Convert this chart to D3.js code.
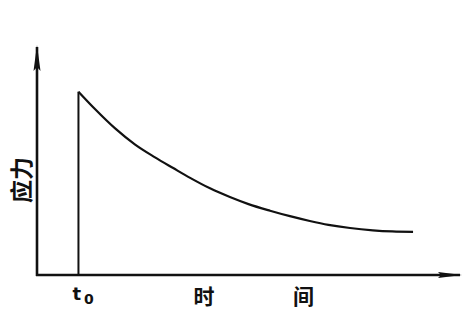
<!DOCTYPE html>
<html>
<head>
<meta charset="utf-8">
<script src="https://cdn.jsdelivr.net/npm/d3@7"></script>
<style>
  body { margin: 0; background: #fff; }
  .cn { font-family: "Noto Sans CJK SC", sans-serif; font-weight: 700; fill: #111; }
  .lat { font-family: "DejaVu Sans", sans-serif; font-weight: 700; fill: #111; }
</style>
</head>
<body>
<svg id="chart" width="474" height="321"></svg>
<script>
// stress relaxation curve (arbitrary units 0-100)
const t0 = 9.8;
const times  = [9.8, 13.7, 18.4, 23.2, 27.9, 32.2, 36.2, 40.9, 45.6, 50.0, 55.1, 59.8, 64.5, 68.9, 74.0, 79.4, 84.0, 88.9];
const stress = [80.4, 72.8, 64.4, 57.2, 51.6, 46.9, 42.6, 38.0, 34.2, 31.1, 28.2, 25.8, 23.7, 22.0, 20.6, 19.6, 19.1, 18.9];
const xLabels = ["时", "间"];
const xLabelPos = [39.5, 63];
const yLabel = "应力";

const svg = d3.select('#chart');
const x0 = 37, x1 = 460, y0 = 275, y1 = 47;

let xScale = d3.scaleLinear().domain([0, 100]).range([x0, x1]);
let yScale = d3.scaleLinear().domain([0, 100]).range([y0, y1]);

let values = times.map((t, i) => ({ x: t, y: stress[i] }));

// arrow heads
let defs = svg.append('defs');
defs.append('marker')
    .attr('id', 'arrY')
    .attr('viewBox', '0 0 26 8')
    .attr('refX', 24).attr('refY', 4)
    .attr('markerWidth', 26).attr('markerHeight', 8)
    .attr('markerUnits', 'userSpaceOnUse')
    .attr('orient', 'auto')
    .append('path')
    .attr('d', 'M0,0.5 L26,4 L0,7.5 L4,4 Z')
    .attr('fill', '#111');

defs.append('marker')
    .attr('id', 'arrX')
    .attr('viewBox', '0 0 24 7')
    .attr('refX', 22).attr('refY', 3.5)
    .attr('markerWidth', 24).attr('markerHeight', 7)
    .attr('markerUnits', 'userSpaceOnUse')
    .attr('orient', 'auto')
    .append('path')
    .attr('d', 'M0,0.5 L24,3.5 L0,6.5 L3,3.5 Z')
    .attr('fill', '#111');

// axes
svg.append('line')
    .attr('x1', xScale(0)).attr('y1', yScale(0) + 1)
    .attr('x2', xScale(0)).attr('y2', yScale(100))
    .attr('stroke', '#111').attr('stroke-width', 2.6)
    .attr('marker-end', 'url(#arrY)');

svg.append('line')
    .attr('x1', xScale(0) - 1).attr('y1', yScale(0))
    .attr('x2', xScale(100)).attr('y2', yScale(0))
    .attr('stroke', '#111').attr('stroke-width', 2.4)
    .attr('marker-end', 'url(#arrX)');

// jump at t0
svg.append('line')
    .attr('x1', xScale(t0)).attr('y1', yScale(0))
    .attr('x2', xScale(t0)).attr('y2', yScale(stress[0]))
    .attr('stroke', '#111').attr('stroke-width', 2);

// relaxation curve
let line = d3.line()
    .curve(d3.curveMonotoneX)
    .x(d => xScale(d.x))
    .y(d => yScale(d.y));

svg.append('path')
    .datum(values)
    .attr('d', line)
    .attr('fill', 'none')
    .attr('stroke', '#111')
    .attr('stroke-width', 2.2);

// labels
let tl = svg.append('text')
    .attr('class', 'lat')
    .attr('x', xScale(t0) - 6)
    .attr('y', 300);
tl.append('tspan').attr('font-size', 18).text('t');
tl.append('tspan').attr('font-size', 14).attr('dx', 3).attr('dy', 4).text('0');

svg.selectAll('.xlab')
    .data(xLabels)
    .enter()
    .append('text')
    .attr('class', 'cn xlab')
    .attr('x', (d, i) => xScale(xLabelPos[i]))
    .attr('y', 304)
    .attr('text-anchor', 'middle')
    .attr('font-size', 21)
    .text(d => d);

svg.append('text')
    .attr('class', 'cn')
    .attr('transform', 'translate(30,180) rotate(-90)')
    .attr('text-anchor', 'middle')
    .attr('font-size', 23)
    .text(yLabel);
</script>
</body>
</html>
